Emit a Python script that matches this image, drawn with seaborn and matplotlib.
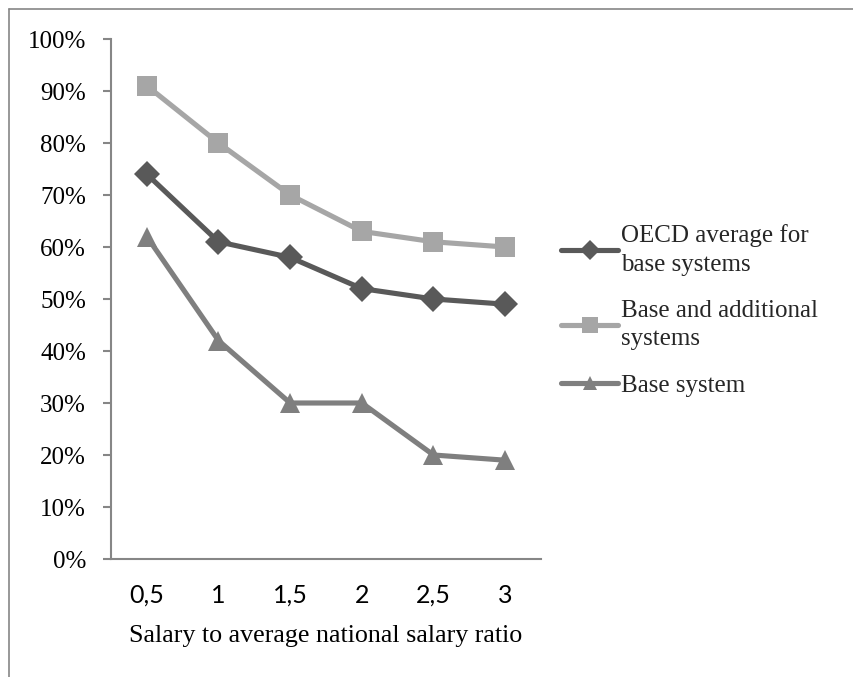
import matplotlib
matplotlib.use("Agg")
import matplotlib.pyplot as plt
import seaborn as sns
import pandas as pd
from matplotlib.lines import Line2D

x_values = [0.5, 1.0, 1.5, 2.0, 2.5, 3.0]
x_labels = ["0,5", "1", "1,5", "2", "2,5", "3"]
oecd = [0.74, 0.61, 0.58, 0.52, 0.50, 0.49]
base_add = [0.91, 0.80, 0.70, 0.63, 0.61, 0.60]
base = [0.62, 0.42, 0.30, 0.30, 0.20, 0.19]
names = ["OECD average for\nbase systems", "Base and additional\nsystems", "Base system"]
y_ticks = [i / 10 for i in range(11)]
y_labels = [f"{i*10}%" for i in range(11)]

colors = ["#595959", "#A6A6A6", "#7F7F7F"]
markers = ["D", "s", "^"]
msizes = [13, 15, 14]

df = pd.DataFrame({
    "x": x_values * 3,
    "y": oecd + base_add + base,
    "series": [names[0]] * 6 + [names[1]] * 6 + [names[2]] * 6,
})

sns.set_theme(style="white")
plt.rcParams["font.family"] = ["Liberation Serif", "DejaVu Serif"]

W, H = 854, 677
fig = plt.figure(figsize=(W / 100, H / 100), dpi=100)
ax = fig.add_axes([111 / W, 1 - 559 / H, (541 - 111) / W, (559 - 39) / H])

for i, n in enumerate(names):
    sub = df[df["series"] == n]
    sns.lineplot(data=sub, x="x", y="y", ax=ax, color=colors[i], linewidth=3.7,
                 marker=markers[i], markersize=msizes[i], markeredgewidth=0,
                 markerfacecolor=colors[i], legend=False)

ax.set_xlim(0.25, 3.25)
ax.set_ylim(0, 1)
ax.set_yticks(y_ticks)
ax.set_yticklabels(y_labels, fontsize=18, color="black")
ax.set_xticks(x_values)
ax.set_xticklabels(x_labels, fontsize=18, color="black", family=["Lato", "DejaVu Sans"])
ax.set_xlabel("Salary to average national salary ratio", fontsize=18.7, color="black", labelpad=13)
ax.set_ylabel("")
for s in ["top", "right"]:
    ax.spines[s].set_visible(False)
for s in ["left", "bottom"]:
    ax.spines[s].set_color("#868686")
    ax.spines[s].set_linewidth(1.5)
ax.tick_params(axis="y", which="both", left=True, length=6, width=1.5, color="#868686", pad=12)
ax.tick_params(axis="x", which="both", bottom=False, pad=12)
ax.patch.set_alpha(0)

handles = [Line2D([], [], color=colors[i], linewidth=3.7, marker=markers[i],
                  markersize=msizes[i] * 0.75, markeredgewidth=0) for i in range(3)]
leg = fig.legend(handles, names, loc="upper left", bbox_to_anchor=(561 / W, 1 - 224 / H),
                 frameon=False, fontsize=18, handlelength=2.3, handletextpad=0.12,
                 labelspacing=0.95, borderaxespad=0, borderpad=0)
for t in leg.get_texts():
    t.set_linespacing(1.4)

# outer chart border (Excel style)
fig.add_artist(Line2D([9 / W, 1], [1 - 9 / H, 1 - 9 / H], transform=fig.transFigure, color="#868686", linewidth=1.2))
fig.add_artist(Line2D([9 / W, 9 / W], [0, 1 - 9 / H], transform=fig.transFigure, color="#868686", linewidth=1.2))

fig.savefig("out.png", dpi=100)
